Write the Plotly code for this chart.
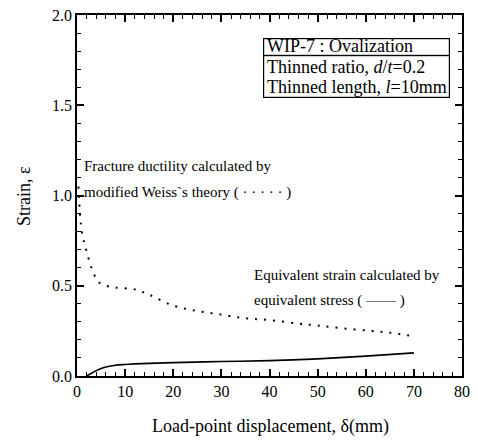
import plotly.graph_objects as go

# Fracture ductility (modified Weiss's theory), dotted
frac_x = [0.3, 1, 2, 3, 4, 5, 8, 12, 15, 20, 25, 30, 35, 40, 46, 50, 55, 61, 65, 70]
frac_y = [1.05, 0.80, 0.69, 0.60, 0.54, 0.51, 0.49, 0.48, 0.45, 0.39, 0.36, 0.34, 0.32, 0.31, 0.29, 0.28, 0.265, 0.25, 0.24, 0.22]

# Equivalent strain (equivalent stress), solid
eq_x = [2, 3, 4, 5, 6, 8, 10, 12, 15, 20, 30, 40, 50, 60, 70]
eq_y = [0.0, 0.015, 0.03, 0.042, 0.05, 0.06, 0.064, 0.067, 0.07, 0.074, 0.08, 0.085, 0.095, 0.11, 0.128]

x_ticks = [0, 10, 20, 30, 40, 50, 60, 70, 80]
y_ticks = [0.0, 0.5, 1.0, 1.5, 2.0]
y_tick_text = ["0.0", "0.5", "1.0", "1.5", "2.0"]

FONT = "Liberation Serif"

fig = go.Figure()
fig.add_trace(go.Scatter(x=frac_x, y=frac_y, mode="lines", line=dict(color="black", width=2, dash="2px,7px"),
                         line_shape="spline", showlegend=False))
fig.add_trace(go.Scatter(x=eq_x, y=eq_y, mode="lines", line=dict(color="black", width=1.6),
                         line_shape="spline", showlegend=False))

common = dict(showline=True, linecolor="black", linewidth=1.5, mirror="allticks", ticks="inside",
              ticklen=7, tickwidth=1.5, tickcolor="black", showgrid=False, zeroline=False,
              automargin=False, tickfont=dict(family=FONT, size=16, color="black"))

fig.update_xaxes(range=[0, 80], tickvals=x_ticks, ticktext=[str(v) for v in x_ticks],
                 minor=dict(dtick=2, tick0=0, ticks="inside", ticklen=4, tickcolor="black", tickwidth=1),
                 **common)
fig.update_yaxes(range=[0, 2.0], tickvals=y_ticks, ticktext=y_tick_text,
                 minor=dict(dtick=0.1, tick0=0, ticks="inside", ticklen=4, tickcolor="black", tickwidth=1),
                 **common)

def ann(text, px, py, size=15, xanchor="left", angle=0):
    fig.add_annotation(xref="paper", yref="paper", x=(px - 77) / 385, y=(376 - py) / 361,
                       text=text, showarrow=False, xanchor=xanchor, yanchor="middle", textangle=angle,
                       font=dict(family=FONT, size=size, color="black"))

def frame(cx, cy, w, h):
    fig.add_annotation(xref="paper", yref="paper", x=(cx - 77) / 385, y=(376 - cy) / 361,
                       text=" ", showarrow=False, xanchor="center", yanchor="middle",
                       width=w, height=h, borderpad=0, borderwidth=1.2, bordercolor="black",
                       bgcolor="rgba(255,255,255,0)", font=dict(size=8))

# Info box (two stacked frames)
frame(356, 46.5, 185, 16)
frame(356, 76, 185, 41)
ann("WIP-7 : Ovalization", 265, 46, 18)
ann("Thinned ratio, <i>d</i>/<i>t</i>=0.2", 265, 67, 18)
ann("Thinned length, <i>l</i>=10mm", 265, 87, 18)
ann("Fracture ductility calculated by", 82, 166, 15)
ann("modified Weiss`s theory ( · · · · · )", 82, 193, 15)
ann("Equivalent strain calculated by", 252, 275, 15)
ann("equivalent stress ( —— )", 252, 300, 15)
# axis titles
ann("Load-point displacement, δ(mm)", 270, 426, 18, xanchor="center")
ann("Strain, ε", 24, 196, 18, xanchor="center", angle=-90)

fig.update_layout(width=478, height=442, margin=dict(l=77, r=16, t=15, b=66),
                  plot_bgcolor="white", paper_bgcolor="white")

fig.write_html("out.html", config={"displayModeBar": False},
               post_script="document.body.style.margin='0px';")
